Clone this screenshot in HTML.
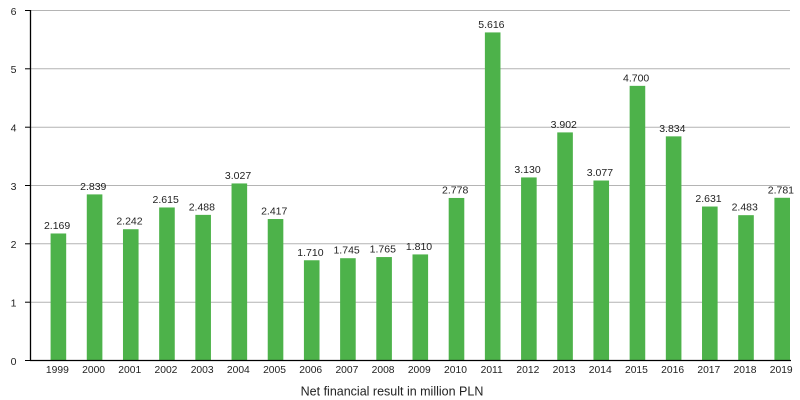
<!DOCTYPE html>
<html>
<head>
<meta charset="utf-8">
<style>
  html,body{margin:0;padding:0;background:#fff;}
  svg{display:block;}
  text{font-family:"Liberation Sans", Arial, sans-serif; fill:#222;}
</style>
</head>
<body>
<svg id="c" width="800" height="400" viewBox="0 0 800 400" xmlns="http://www.w3.org/2000/svg">
  <!-- gridlines -->
  <g stroke="#b4b4b4" stroke-width="1">
    <line x1="30" y1="10.5" x2="790" y2="10.5"/>
    <line x1="30" y1="68.8" x2="790" y2="68.8"/>
    <line x1="30" y1="127.2" x2="790" y2="127.2"/>
    <line x1="30" y1="185.5" x2="790" y2="185.5"/>
    <line x1="30" y1="243.8" x2="790" y2="243.8"/>
    <line x1="30" y1="302.2" x2="790" y2="302.2"/>
  </g>
  <!-- ticks -->
  <g stroke="#000" stroke-width="1">
    <line x1="25" y1="10.5" x2="30" y2="10.5"/>
    <line x1="25" y1="68.8" x2="30" y2="68.8"/>
    <line x1="25" y1="127.2" x2="30" y2="127.2"/>
    <line x1="25" y1="185.5" x2="30" y2="185.5"/>
    <line x1="25" y1="243.8" x2="30" y2="243.8"/>
    <line x1="25" y1="302.2" x2="30" y2="302.2"/>
    <line x1="25" y1="360.5" x2="30" y2="360.5"/>
  </g>
  <!-- y labels -->
  <g font-size="10.5" text-anchor="end">
    <text x="16.5" y="14.8">6</text>
    <text x="16.5" y="73.1">5</text>
    <text x="16.5" y="131.5">4</text>
    <text x="16.5" y="189.8">3</text>
    <text x="16.5" y="248.1">2</text>
    <text x="16.5" y="306.5">1</text>
    <text x="16.5" y="364.8">0</text>
  </g>
  <g id="bars"></g>
  <!-- axes -->
  <line x1="30.5" y1="10" x2="30.5" y2="361" stroke="#000" stroke-width="1.3"/>
  <line x1="30" y1="360.5" x2="791" y2="360.5" stroke="#000" stroke-width="1.3"/>
  <text x="392" y="395.5" font-size="12.5" text-anchor="middle">Net financial result in million PLN</text>
</svg>
<script>
(function(){
  var vals=[2.169,2.839,2.242,2.615,2.488,3.027,2.417,1.710,1.745,1.765,1.810,2.778,5.616,3.130,3.902,3.077,4.700,3.834,2.631,2.483,2.781];
  var g=document.getElementById('bars');
  var ns='http://www.w3.org/2000/svg';
  var step=760/21, bw=15.6, base=360, k=58.33;
  var html='';
  for(var i=0;i<vals.length;i++){
    var right=30+step*(i+1);
    var x=right-bw;
    var top=base-vals[i]*k;
    var cx=x+bw/2;
    html+='<rect x="'+x.toFixed(2)+'" y="'+top.toFixed(2)+'" width="'+bw+'" height="'+(base-top).toFixed(2)+'" fill="#4db24a"/>';
    html+='<text x="'+(cx-1.3).toFixed(2)+'" y="'+(top-4.5).toFixed(2)+'" font-size="10.5" text-anchor="middle">'+vals[i].toFixed(3)+'</text>';
    html+='<text x="'+(cx-1).toFixed(2)+'" y="373" font-size="10.3" text-anchor="middle">'+(1999+i)+'</text>';
  }
  g.innerHTML=html;
})();
</script>
</body>
</html>
